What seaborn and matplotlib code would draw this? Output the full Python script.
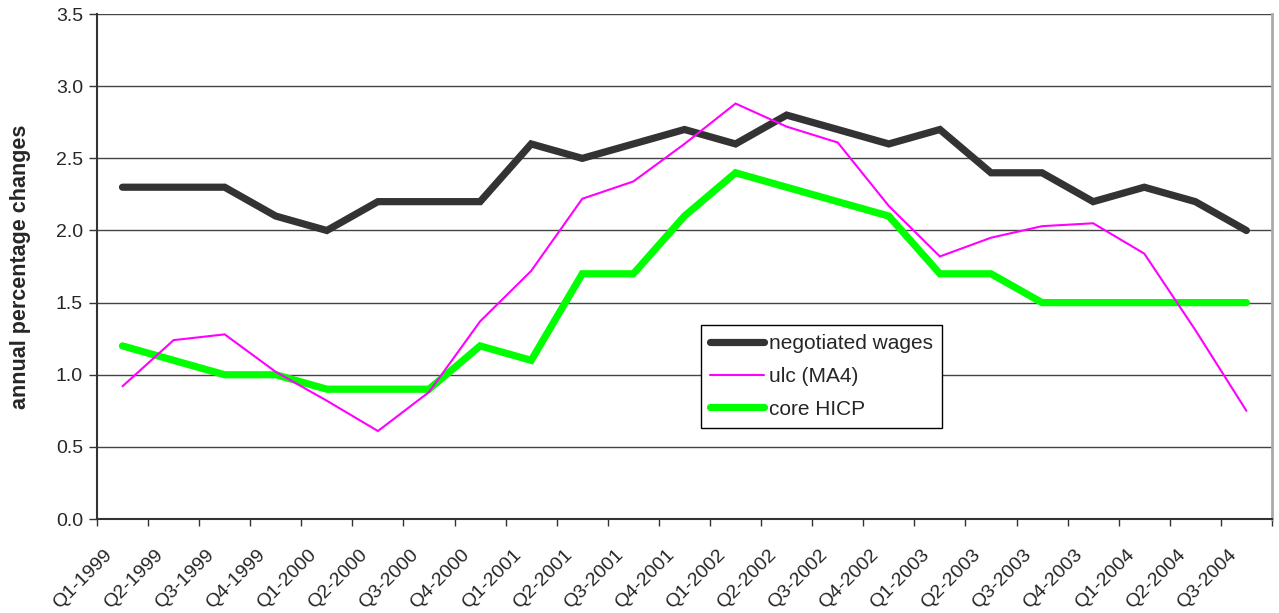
import numpy as np
import pandas as pd
import matplotlib
matplotlib.use("Agg")
import matplotlib.pyplot as plt
from matplotlib.ticker import FixedLocator, MultipleLocator, FormatStrFormatter
from matplotlib.lines import Line2D
import seaborn as sns

quarters = ["Q1-1999", "Q2-1999", "Q3-1999", "Q4-1999", "Q1-2000", "Q2-2000",
            "Q3-2000", "Q4-2000", "Q1-2001", "Q2-2001", "Q3-2001", "Q4-2001",
            "Q1-2002", "Q2-2002", "Q3-2002", "Q4-2002", "Q1-2003", "Q2-2003",
            "Q3-2003", "Q4-2003", "Q1-2004", "Q2-2004", "Q3-2004"]
negotiated_wages = [2.3, 2.3, 2.3, 2.1, 2.0, 2.2, 2.2, 2.2, 2.6, 2.5, 2.6, 2.7,
                    2.6, 2.8, 2.7, 2.6, 2.7, 2.4, 2.4, 2.2, 2.3, 2.2, 2.0]
ulc_ma4 = [0.92, 1.24, 1.28, 1.02, 0.82, 0.61, 0.88, 1.37, 1.72, 2.22, 2.34, 2.60,
           2.88, 2.72, 2.61, 2.17, 1.82, 1.95, 2.03, 2.05, 1.84, 1.31, 0.75]
core_hicp = [1.2, 1.1, 1.0, 1.0, 0.9, 0.9, 0.9, 1.2, 1.1, 1.7, 1.7, 2.1,
             2.4, 2.3, 2.2, 2.1, 1.7, 1.7, 1.5, 1.5, 1.5, 1.5, 1.5]
series_names = ["negotiated wages", "ulc (MA4)", "core HICP"]

n = len(quarters)
df = pd.DataFrame({
    "pos": list(range(n)) * 3,
    "value": negotiated_wages + ulc_ma4 + core_hicp,
    "series": [series_names[0]] * n + [series_names[1]] * n + [series_names[2]] * n,
})

sns.set_theme(style="white")
plt.rcParams["font.family"] = ["Liberation Sans", "DejaVu Sans"]

fig = plt.figure(figsize=(12.79, 6.13), dpi=100)
ax = fig.add_axes([0.0758, 0.1533, 0.9187, 0.8237])

palette = {"negotiated wages": "#333333", "ulc (MA4)": "#FF00FF", "core HICP": "#00FF00"}
widths = {"negotiated wages": 5.2, "ulc (MA4)": 1.5, "core HICP": 5.2}

sns.lineplot(data=df, x="pos", y="value", hue="series", palette=palette,
             hue_order=series_names, ax=ax, legend=False, sort=False)
for line, name in zip(ax.get_lines(), series_names):
    line.set_linewidth(widths[name])
    line.set_solid_capstyle("round")
    line.set_solid_joinstyle("miter")
    line.set_zorder(3 if name != "ulc (MA4)" else 4)

ax.set_xlim(-0.5, n - 0.5)
ax.set_ylim(0, 3.5)
ax.yaxis.set_major_locator(MultipleLocator(0.5))
ax.yaxis.set_major_formatter(FormatStrFormatter("%.1f"))
ax.tick_params(axis="y", labelsize=14)
ax.yaxis.grid(True, color="#444444", linewidth=1.0)
ax.set_axisbelow(True)

# category labels: right end sits slightly left of the category centre (as in the original)
ax.set_xticks(np.arange(n) - 0.25)
ax.set_xticklabels(quarters, rotation=45, ha="right", va="center",
                   rotation_mode="anchor", fontsize=14)
ax.xaxis.set_minor_locator(FixedLocator(np.arange(-0.5, n, 1.0)))
ax.tick_params(axis="x", which="major", length=0, pad=24)
ax.tick_params(axis="x", which="minor", length=5, width=1.0, color="#333333",
               direction="out", bottom=True)
ax.tick_params(axis="y", which="major", length=6, width=1.0, color="#333333",
               direction="out", left=True, pad=4)

ax.set_xlabel("")
ax.set_ylabel("annual percentage changes", fontsize=15.5, fontweight="bold", labelpad=18)

for side in ["left", "bottom"]:
    ax.spines[side].set_color("#333333")
    ax.spines[side].set_linewidth(1.5)
ax.spines["top"].set_visible(False)
ax.spines["right"].set_color("#aaaaaa")
ax.spines["right"].set_linewidth(2)

handles = [Line2D([], [], color=palette[s], linewidth=widths[s], solid_capstyle="round")
           for s in series_names]
leg = ax.legend(handles, series_names, loc="lower left", bbox_to_anchor=(0.514, 0.180),
                borderaxespad=0, frameon=True, fancybox=False, fontsize=15,
                handlelength=2.6, handletextpad=0.2, borderpad=0.45, labelspacing=0.66)
leg.get_frame().set_edgecolor("#000000")
leg.get_frame().set_linewidth(1.0)
leg.get_frame().set_alpha(1)

fig.savefig("out.png", dpi=100, facecolor="white")
